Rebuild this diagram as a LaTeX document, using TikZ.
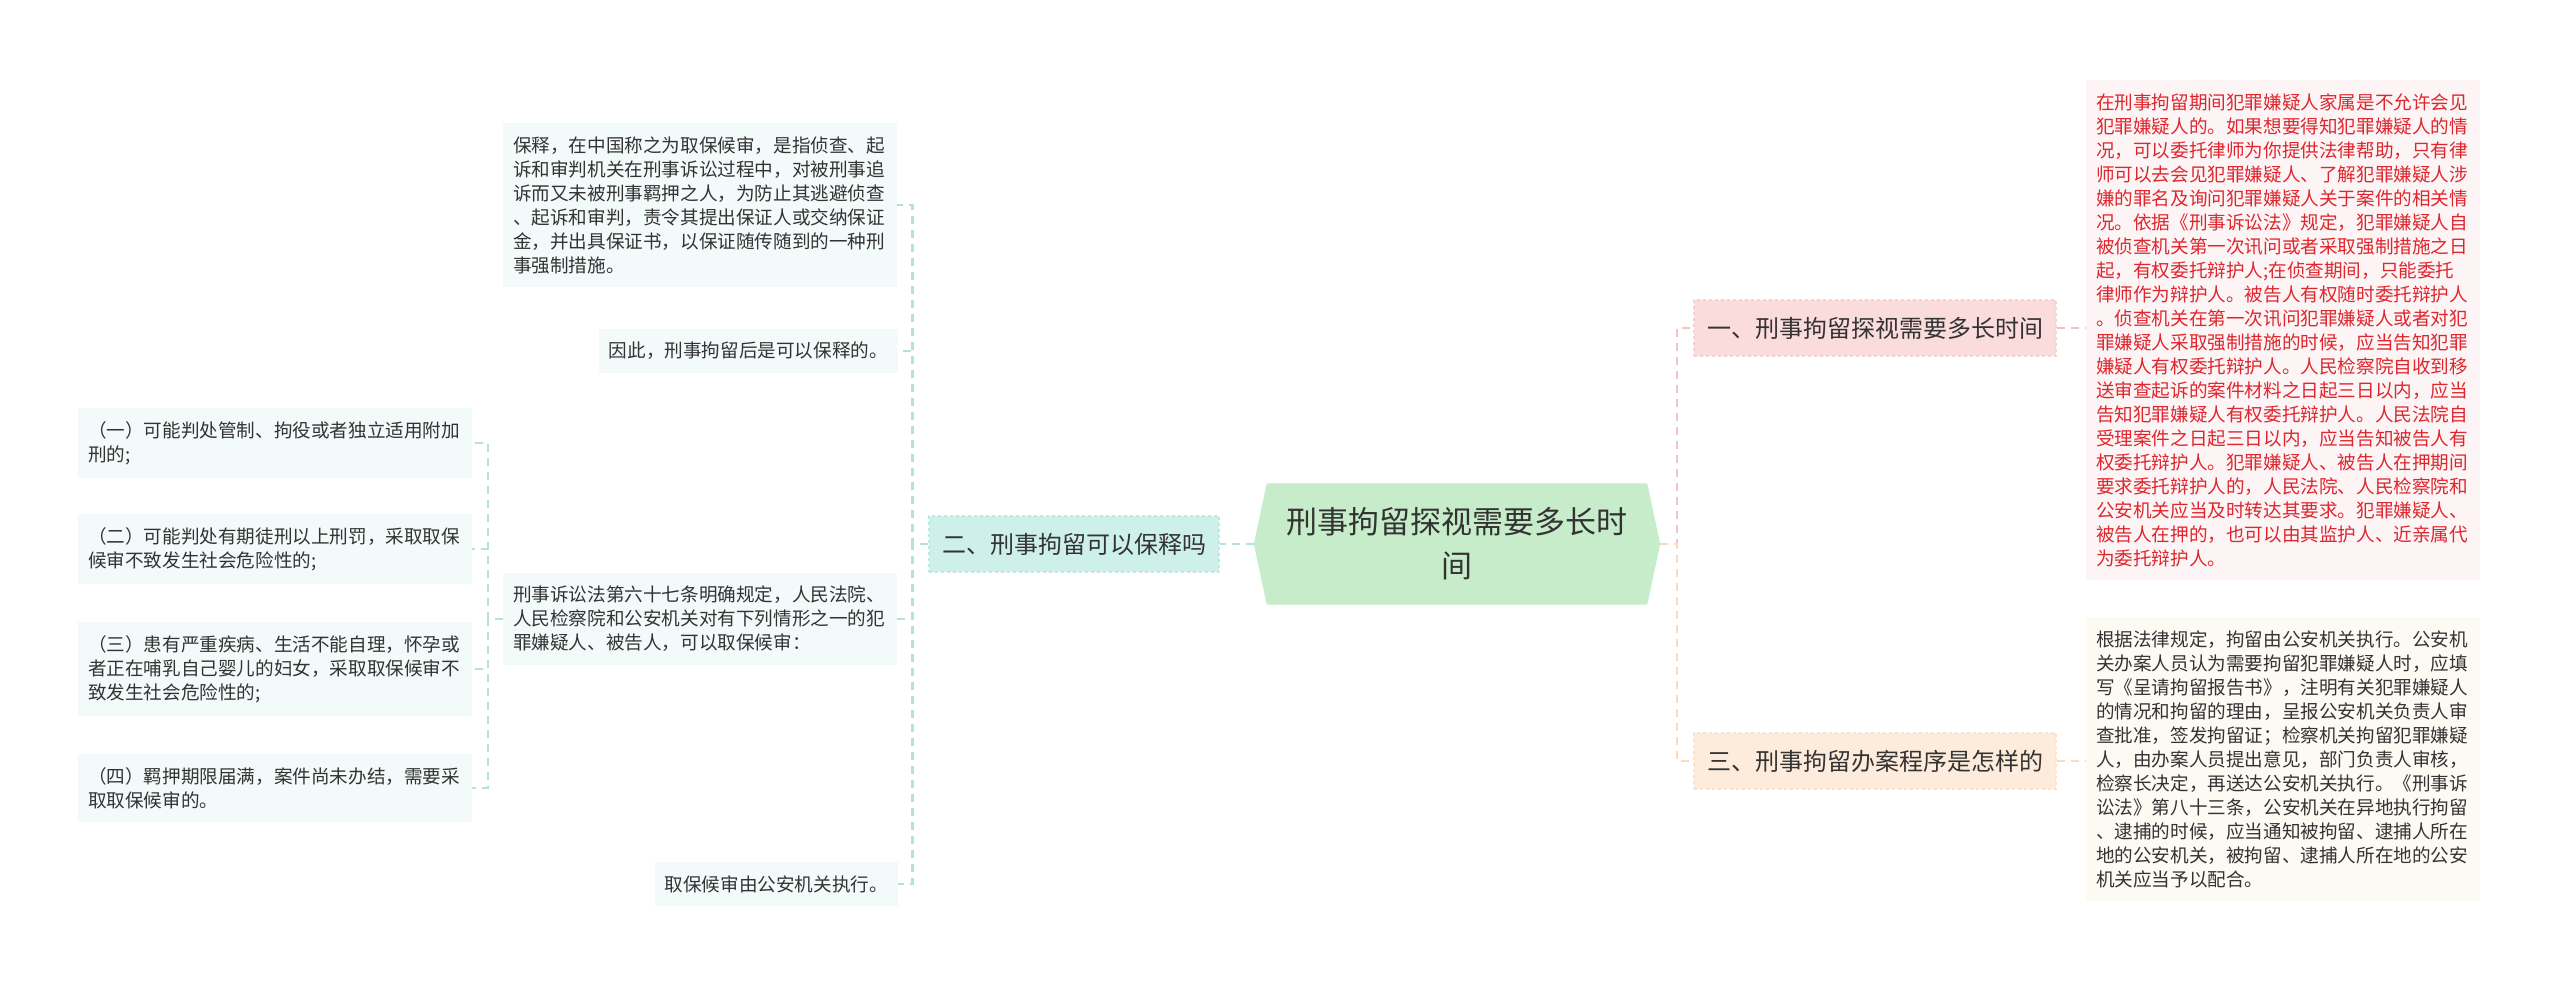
\documentclass[tikz,border=0pt]{standalone}
\usepackage{fontspec}
\setmainfont{Noto Sans CJK SC}
\usetikzlibrary{positioning,backgrounds}

\definecolor{txt}{RGB}{51,51,51}
\definecolor{redtxt}{RGB}{222,38,46}
\definecolor{rootfill}{RGB}{199,236,201}
\definecolor{cyanfill}{RGB}{206,240,235}
\definecolor{cyanline}{RGB}{178,226,218}
\definecolor{cyanedge}{RGB}{190,232,225}
\definecolor{pinkfill}{RGB}{251,220,221}
\definecolor{pinkline}{RGB}{242,194,197}
\definecolor{pinkedge}{RGB}{247,208,210}
\definecolor{peachfill}{RGB}{253,236,219}
\definecolor{peachline}{RGB}{248,219,192}
\definecolor{peachedge}{RGB}{250,226,204}
\definecolor{leaffill}{RGB}{243,250,250}
\definecolor{redleaf}{RGB}{253,245,245}
\definecolor{peachleaf}{RGB}{253,250,244}

\begin{document}
\begin{tikzpicture}[
  x=1pt, y=-1pt,
  every node/.style={font=\fontsize{18.6}{24}\selectfont, text=txt, inner sep=0pt},
  rootbox/.style={minimum width=380pt, minimum height=121pt, align=center,
    font=\fontsize{31}{44}\selectfont},
  branch/.style={fill=#1fill, draw=#1edge, dashed, line width=1.2pt,
    inner xsep=13pt, minimum height=56pt, font=\fontsize{24}{30}\selectfont},
  leaf/.style={fill=leaffill, inner xsep=10pt, inner ysep=13pt},
  para/.style={leaf, text width=374pt, align=left},
  link/.style={draw=#1, dashed, dash pattern=on 8pt off 6pt, line width=2.2pt}
]
% centre
\node (root) [rootbox] at (1457,544) {刑事拘留探视需要多长时\\间};
\coordinate (rootL) at ([xshift=-13pt]root.west);
\coordinate (rootR) at ([xshift=13pt]root.east);

% left branch
\node (q2) [branch=cyan] at (1074,544) {二、刑事拘留可以保释吗};
\node (bA) [para] at (700,205) {保释，在中国称之为取保候审，是指侦查、起\\
诉和审判机关在刑事诉讼过程中，对被刑事追\\
诉而又未被刑事羁押之人，为防止其逃避侦查\\
、起诉和审判，责令其提出保证人或交纳保证\\
金，并出具保证书，以保证随传随到的一种刑\\
事强制措施。};
\node (bB) [leaf, anchor=east] at (898,351) {因此，刑事拘留后是可以保释的。};
\node (bC) [para] at (700,619) {刑事诉讼法第六十七条明确规定，人民法院、\\
人民检察院和公安机关对有下列情形之一的犯\\
罪嫌疑人、被告人，可以取保候审：};
\node (bD) [leaf, anchor=east] at (898,884) {取保候审由公安机关执行。};

\node (c1) [para] at (275,443) {（一）可能判处管制、拘役或者独立适用附加\\刑的;};
\node (c2) [para] at (275,549) {（二）可能判处有期徒刑以上刑罚，采取取保\\候审不致发生社会危险性的;};
\node (c3) [para] at (275,669) {（三）患有严重疾病、生活不能自理，怀孕或\\
者正在哺乳自己婴儿的妇女，采取取保候审不\\致发生社会危险性的;};
\node (c4) [para] at (275,788) {（四）羁押期限届满，案件尚未办结，需要采\\取取保候审的。};

% right branch
\node (q1) [branch=pink] at (1875,328) {一、刑事拘留探视需要多长时间};
\node (q3) [branch=peach] at (1875,761) {三、刑事拘留办案程序是怎样的};

\node (t1) [para, fill=redleaf, text=redtxt] at (2283,330) {在刑事拘留期间犯罪嫌疑人家属是不允许会见\\
犯罪嫌疑人的。如果想要得知犯罪嫌疑人的情\\
况，可以委托律师为你提供法律帮助，只有律\\
师可以去会见犯罪嫌疑人、了解犯罪嫌疑人涉\\
嫌的罪名及询问犯罪嫌疑人关于案件的相关情\\
况。依据《刑事诉讼法》规定，犯罪嫌疑人自\\
被侦查机关第一次讯问或者采取强制措施之日\\
起，有权委托辩护人;在侦查期间，只能委托\\
律师作为辩护人。被告人有权随时委托辩护人\\
。侦查机关在第一次讯问犯罪嫌疑人或者对犯\\
罪嫌疑人采取强制措施的时候，应当告知犯罪\\
嫌疑人有权委托辩护人。人民检察院自收到移\\
送审查起诉的案件材料之日起三日以内，应当\\
告知犯罪嫌疑人有权委托辩护人。人民法院自\\
受理案件之日起三日以内，应当告知被告人有\\
权委托辩护人。犯罪嫌疑人、被告人在押期间\\
要求委托辩护人的，人民法院、人民检察院和\\
公安机关应当及时转达其要求。犯罪嫌疑人、\\
被告人在押的，也可以由其监护人、近亲属代\\
为委托辩护人。};
\node (t3) [para, fill=peachleaf] at (2283,759) {根据法律规定，拘留由公安机关执行。公安机\\
关办案人员认为需要拘留犯罪嫌疑人时，应填\\
写《呈请拘留报告书》，注明有关犯罪嫌疑人\\
的情况和拘留的理由，呈报公安机关负责人审\\
查批准，签发拘留证；检察机关拘留犯罪嫌疑\\
人，由办案人员提出意见，部门负责人审核，\\
检察长决定，再送达公安机关执行。《刑事诉\\
讼法》第八十三条，公安机关在异地执行拘留\\
、逮捕的时候，应当通知被拘留、逮捕人所在\\
地的公安机关，被拘留、逮捕人所在地的公安\\
机关应当予以配合。};

\begin{scope}[on background layer]
  \fill[white] (0,0) rectangle (2560,983);
  \fill[rootfill] (root.north west) -- (root.north east) -- (rootR)
    -- (root.south east) -- (root.south west) -- (rootL) -- cycle;
  % connectors
  \draw[link=cyanline] (rootL) -- (q2.east);
  \foreach \n in {bA,bB,bC,bD}
    \draw[link=cyanline] (q2.west) -- ++(-16,0) |- (\n.east);
  \foreach \n in {c1,c2,c3,c4}
    \draw[link=cyanline] (bC.west) -- ++(-15,0) |- (\n.east);
  \draw[link=pinkline] (rootR) -- ++(17,0) |- (q1.west);
  \draw[link=peachline] (rootR) -- ++(17,0) |- (q3.west);
  \draw[link=pinkline] (q1.east) -- (q1.east -| t1.west);
  \draw[link=peachline] (q3.east) -- (q3.east -| t3.west);
\end{scope}
\useasboundingbox (0,0) rectangle (2560,983);
\end{tikzpicture}
\end{document}
